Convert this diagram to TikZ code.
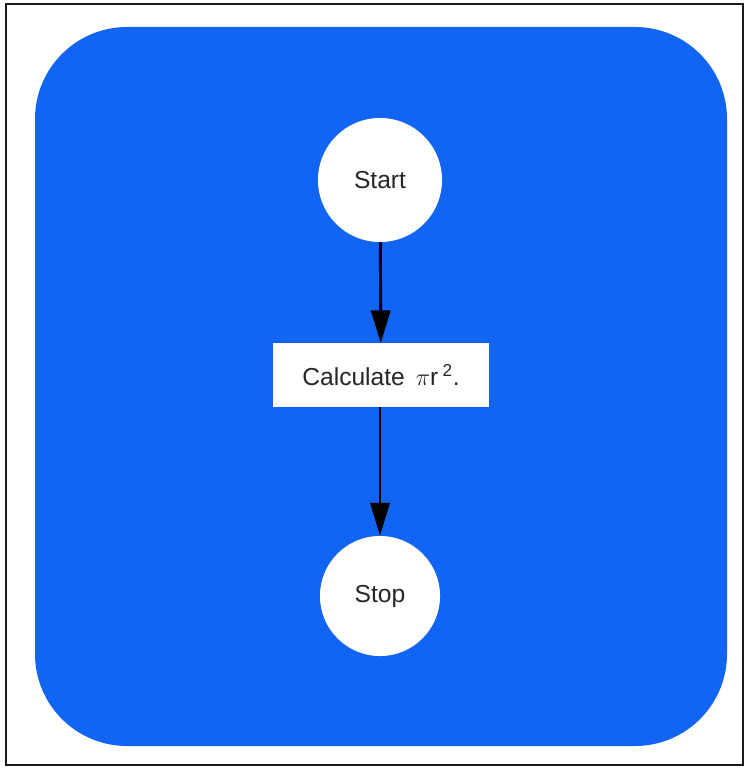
\documentclass[tikz,border=0pt]{standalone}
\usepackage{fontspec}
\setmainfont{Liberation Sans}
\usepackage{tikz}
\usetikzlibrary{arrows.meta, positioning}
\definecolor{fblue}{HTML}{1264F2}
\definecolor{fframe}{HTML}{1A1A1A}
\tikzset{
  termnode/.style={circle, fill=white, minimum size=3.1cm, inner sep=0pt,
                   font=\fontsize{17.5}{21}\selectfont, text=black!85},
  procnode/.style={rectangle, fill=white, minimum width=5.38cm, minimum height=1.58cm,
                   inner sep=0pt, font=\fontsize{17.5}{21}\selectfont, text=black!85},
  flowarrow/.style={-{Triangle[length=8.2mm, width=4.8mm]}, black, line width=2.1pt},
}

\begin{document}
\begin{tikzpicture}[x=0.025cm, y=-0.025cm]

  \fill[white] (0,0) rectangle (744,768);
  \useasboundingbox (0,0) rectangle (744,768);
  \draw[fframe, line width=1.4pt] (6,4) rectangle (743,765);

  % blue panel
  \fill[fblue, rounded corners=2.3cm] (35,27) rectangle (727,746);

  \node[termnode] (start) at (380,180) {Start};
  \node[procnode] (calc) at (381,375) {Calculate \,$\pi$r\,\textsuperscript{2}.};
  \node[termnode, minimum size=3.0cm] (stop) at (380,596) {Stop};

  \draw[flowarrow] (start) -- (calc);
  \draw[flowarrow] (calc.south -| stop) -- (stop);

\end{tikzpicture}
\end{document}
